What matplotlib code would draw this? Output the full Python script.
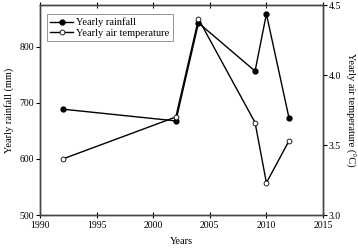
import matplotlib
matplotlib.use('Agg')
import matplotlib.pyplot as plt

plt.rcParams['font.family'] = ['Liberation Serif', 'DejaVu Serif']

years = [1992, 2002, 2004, 2009, 2010, 2012]
rainfall = [689, 668, 843, 757, 859, 673]
temperature = [3.40, 3.70, 4.40, 3.66, 3.23, 3.53]

fig = plt.figure(figsize=(3.58, 2.49), dpi=100)
ax1 = fig.add_axes([40/358, 34/249, 283/358, 210/249])
ax2 = ax1.twinx()

l1, = ax1.plot(years, rainfall, '-o', color='black', lw=1.0, ms=3.5,
               label='Yearly rainfall')
l2, = ax2.plot(years, temperature, '-o', color='black', lw=1.0, ms=3.5,
               mfc='white', mew=0.6, label='Yearly air temperature')

ax1.set_xlim(1990, 2015)
ax1.set_ylim(500, 875)
ax1.set_yticks([500, 600, 700, 800])
ax2.set_ylim(3.0, 4.5)
ax2.set_yticks([3.0, 3.5, 4.0, 4.5])
ax1.set_xticks(range(1990, 2016, 5))

for ax in (ax1, ax2):
    for s in ax.spines.values():
        s.set_color('#444444')
        s.set_linewidth(1.0)

ax1.tick_params(axis='x', direction='inout', length=4, labelsize=7,
                top=True, pad=2)
ax1.tick_params(axis='y', direction='out', length=3, labelsize=7, pad=1)
ax2.tick_params(axis='y', direction='out', length=3, labelsize=7, pad=1)

ax1.set_xlabel('Years', fontsize=7.5, labelpad=5)
ax1.set_ylabel('Yearly rainfall (mm)', fontsize=7.5, labelpad=4)
ax2.set_ylabel('Yearly air temperature (\u00b0C)', fontsize=7.5,
               rotation=270, labelpad=10)

leg = ax1.legend(handles=[l1, l2], loc='upper left', fontsize=7.5,
                 frameon=True, fancybox=False, edgecolor='#666666',
                 handlelength=2.2, borderpad=0.3, labelspacing=0.15,
                 handletextpad=0.3, borderaxespad=0,
                 bbox_to_anchor=(0.025, 0.955))
leg.get_frame().set_linewidth(0.6)

fig.savefig('out.png', dpi=100)
